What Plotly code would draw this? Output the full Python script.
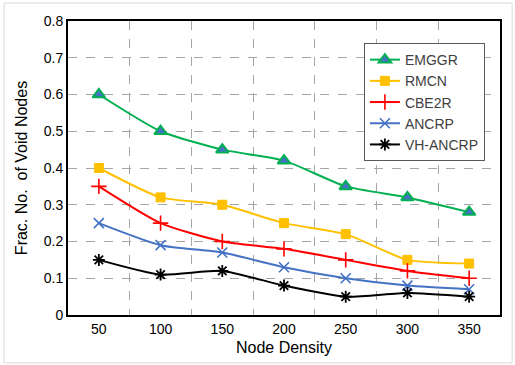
import plotly.graph_objects as go

node_density = [50, 100, 150, 200, 250, 300, 350]
emggr = [0.60, 0.50, 0.45, 0.42, 0.35, 0.32, 0.28]
rmcn = [0.40, 0.32, 0.30, 0.25, 0.22, 0.15, 0.14]
cbe2r = [0.35, 0.25, 0.20, 0.18, 0.15, 0.12, 0.10]
ancrp = [0.25, 0.19, 0.17, 0.13, 0.10, 0.08, 0.07]
vh_ancrp = [0.15, 0.11, 0.12, 0.08, 0.05, 0.06, 0.05]
y_ticks = [0, 0.1, 0.2, 0.3, 0.4, 0.5, 0.6, 0.7, 0.8]
y_tick_labels = ["0", "0.1", "0.2", "0.3", "0.4", "0.5", "0.6", "0.7", "0.8"]

series = [
    ("EMGGR", emggr, "#00B050", dict(symbol="triangle-up", size=11, color="#4472C4",
                                     line=dict(color="#00B050", width=2))),
    ("RMCN", rmcn, "#FFC000", dict(symbol="square", size=9, color="#FFC000",
                                   line=dict(color="#FFC000", width=1))),
    ("CBE2R", cbe2r, "#FF0000", dict(symbol="cross-thin", size=11, color="#FF0000",
                                     line=dict(color="#FF0000", width=1.6))),
    ("ANCRP", ancrp, "#4472C4", dict(symbol="x-thin", size=10, color="#4472C4",
                                     line=dict(color="#4472C4", width=1.6))),
    ("VH-ANCRP", vh_ancrp, "#000000", dict(symbol="asterisk", size=10, color="#000000",
                                           line=dict(color="#000000", width=1.8))),
]

fig = go.Figure()
for name, vals, col, mk in series:
    fig.add_trace(go.Scatter(
        x=node_density, y=vals, name=name, mode="lines+markers",
        line=dict(color=col, width=2, shape="spline", smoothing=0.6),
        marker=mk,
    ))

fig.update_layout(
    width=515, height=365,
    margin=dict(l=68, r=15, t=21, b=50, autoexpand=False),
    paper_bgcolor="white", plot_bgcolor="white",
    font=dict(family="Liberation Sans, Arial, sans-serif", size=14, color="#000000"),
    showlegend=True,
    legend=dict(x=0.685, y=0.925, xanchor="left", yanchor="top",
                bgcolor="white", bordercolor="#595959", borderwidth=1,
                font=dict(size=14, color="#404040"), tracegroupgap=0,
                itemwidth=30),
    xaxis=dict(
        range=[25, 375], tickvals=node_density, ticktext=[str(v) for v in node_density],
        showgrid=False, ticks="", zeroline=False, automargin=False,
        showline=True, linecolor="black", linewidth=2, mirror=True,
        title=dict(text="Node Density", font=dict(size=16), standoff=6),
        minor=dict(tick0=25, dtick=50, showgrid=True, gridcolor="#A6A6A6",
                   griddash="dash", gridwidth=1, ticks=""),
    ),
    yaxis=dict(
        range=[0, 0.8], tickvals=y_ticks, ticktext=y_tick_labels,
        showgrid=True, gridcolor="#A6A6A6", griddash="dash", gridwidth=1,
        ticks="", zeroline=False, automargin=False,
        showline=True, linecolor="black", linewidth=2, mirror=True,
        title=dict(text="Frac. No.  of Void Nodes", font=dict(size=16), standoff=12),
    ),
    shapes=[dict(type="rect", xref="paper", yref="paper", x0=-0.148, x1=1.028,
                 y0=-0.163, y1=1.061, line=dict(color="#D9D9D9", width=1))],
)

fig.write_html("out.html", config={"displayModeBar": False},
               post_script="document.body.style.margin='0';")
